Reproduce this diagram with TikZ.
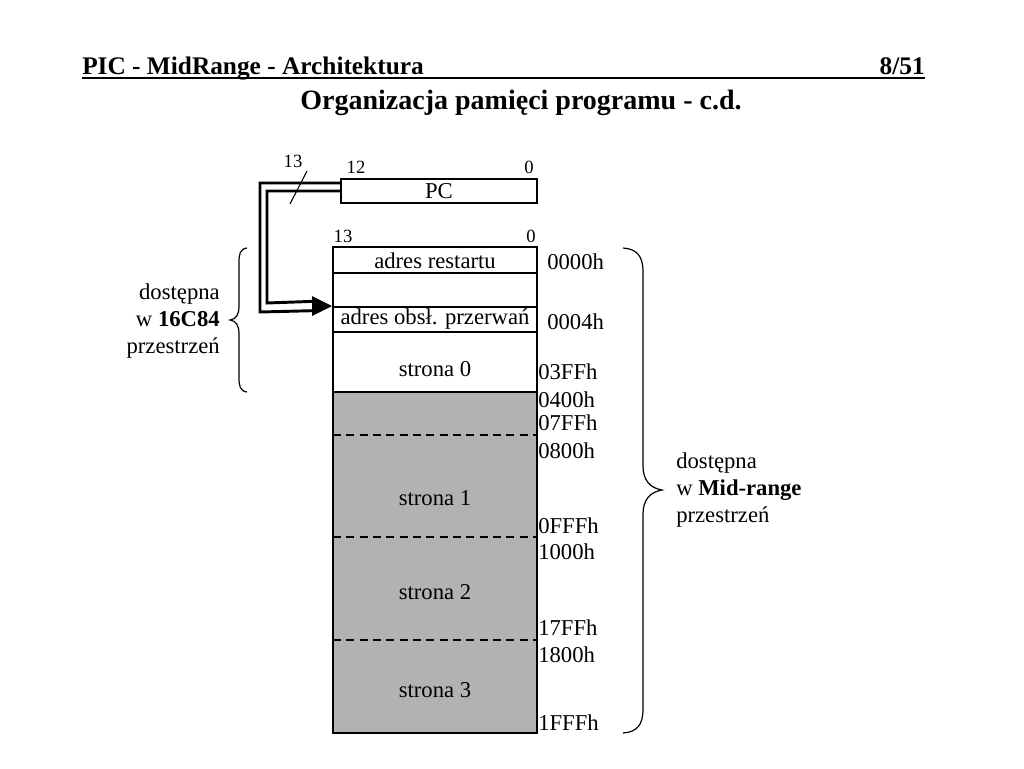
\documentclass[tikz,border=0pt]{standalone}
\usepackage{fontspec}
\setmainfont{Liberation Serif}
\begin{document}
\begin{tikzpicture}[x=0.75pt,y=-0.75pt,
  lbl/.style={inner sep=0pt,font=\fontsize{17}{20}\selectfont},
  small/.style={inner sep=0pt,font=\fontsize{14}{16}\selectfont},
  addr/.style={inner sep=0pt,anchor=west,font=\fontsize{17}{20}\selectfont},
  side/.style={inner sep=0pt,font=\fontsize{17}{20}\selectfont},
  boxline/.style={line width=1.5pt},
  bus/.style={line width=2.2pt},
  brace/.style={line width=0.9pt},
  sep/.style={line width=1.5pt,dash pattern=on 6pt off 4pt}]
\useasboundingbox (0,0) rectangle (1024,768);
\definecolor{memgray}{RGB}{178,178,178}
% header
\node[inner sep=0pt,anchor=base west,font=\fontsize{19}{22}\selectfont\bfseries] (hdr) at (82,74) {PIC - MidRange - Architektura};
\node[inner sep=0pt,anchor=base east,font=\fontsize{19}{22}\selectfont\bfseries] (pg) at (925,74) {8/51};
\draw[line width=1.6pt] (82,78) -- (925,78);
\node[inner sep=0pt,anchor=base,font=\fontsize{21}{24}\selectfont\bfseries] (title) at (521,109) {Organizacja pamięci programu - c.d.};
% PC register
\node[draw,boxline,minimum width=147pt,minimum height=18pt,inner sep=0pt,font=\fontsize{17}{20}\selectfont] (pc) at (439,191) {PC};
\node[small] (pc12) at (356,167) {12};
\node[small] (pc0) at (529,167) {0};
\node[small] (bus13) at (293,161) {13};
% memory
\fill[memgray] (333,392) rectangle (537,733);
\draw[boxline] (333,272.5) -- (537,272.5);
\draw[boxline] (333,392) -- (537,392);
\draw[sep] (333,435) -- (537,435);
\draw[sep] (333,537) -- (537,537);
\draw[sep] (333,640) -- (537,640);
\node[draw,boxline,fill=white,minimum width=153pt,minimum height=18.75pt,inner sep=0pt,font=\fontsize{17}{20}\selectfont] (isr) at (435,319.5) {adres obsł. przerwań};
\draw[boxline] (333,247) rectangle (537,733);
\node[lbl] (rst) at (435,261) {adres restartu};
\node[lbl] (s0) at (435,369) {strona 0};
\node[lbl] (s1) at (435,498) {strona 1};
\node[lbl] (s2) at (435,592) {strona 2};
\node[lbl] (s3) at (435,690) {strona 3};
\node[small] (m13) at (343,236) {13};
\node[small] (m0) at (531,236) {0};
% addresses
\node[addr] (a0) at (547,262) {0000h};
\node[addr] (a4) at (547,322) {0004h};
\node[addr] (a3ff) at (538,372) {03FFh};
\node[addr] (a400) at (538,400) {0400h};
\node[addr] (a7ff) at (538,423) {07FFh};
\node[addr] (a800) at (538,451) {0800h};
\node[addr] (afff) at (538,526) {0FFFh};
\node[addr] (a1000) at (538,552) {1000h};
\node[addr] (a17ff) at (538,628) {17FFh};
\node[addr] (a1800) at (538,655) {1800h};
\node[addr] (a1fff) at (538,723) {1FFFh};
% bus from PC to interrupt vector
\draw[bus] ([yshift=6pt]pc.west) -- (260,183) -- (260,312) -- ([xshift=-14pt,yshift=-3.5pt]isr.north west);
\draw[bus] (pc.west) -- (267,191) -- (267,303) -- ([xshift=-14pt,yshift=3.5pt]isr.north west);
\fill (isr.north west) -- ++(-20,-10) -- ++(0,20) -- cycle;
\draw[line width=0.8pt] (290,204) -- (307,171);
% left brace and text
\draw[brace] (247,248) .. controls (240,249) and (239,254) .. (239,262) -- (239,306)
  .. controls (239,315) and (236,319) .. (230,320)
  .. controls (236,321) and (239,325) .. (239,334) -- (239,378)
  .. controls (239,386) and (240,391) .. (247,392);
\node[side,align=right,anchor=east] (lt) at (220,321) {dostępna\\w \textbf{16C84}\\przestrzeń};
% right brace and text
\draw[brace] (623,248) .. controls (637,249) and (643,256) .. (643,272) -- (643,466)
  .. controls (643,480) and (650,488) .. (662,490)
  .. controls (650,492) and (643,500) .. (643,514) -- (643,709)
  .. controls (643,725) and (637,732) .. (623,733);
\node[side,align=left,anchor=west] (rt) at (676,490) {dostępna\\w \textbf{Mid-range}\\przestrzeń};
\end{tikzpicture}
\end{document}
